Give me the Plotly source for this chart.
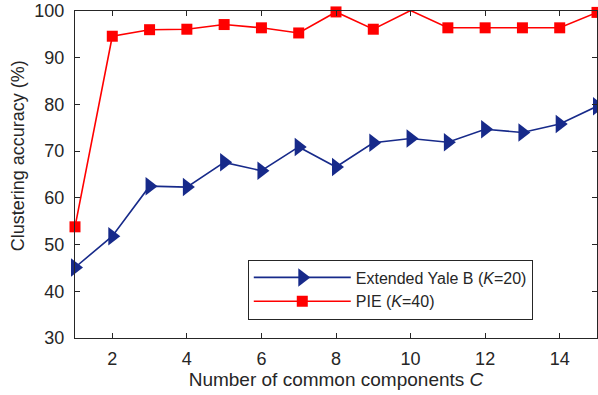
import plotly.graph_objects as go

components = list(range(1, 16))
yale_b = [45.1, 51.8, 62.5, 62.3, 67.6, 65.8, 70.9, 66.6, 71.8, 72.7, 71.9, 74.7, 74.0, 75.8, 79.6]
pie = [53.8, 94.6, 96.0, 96.1, 97.1, 96.4, 95.3, 99.8, 96.1, 100.1, 96.4, 96.4, 96.4, 96.4, 99.7]

x_ticks = [2, 4, 6, 8, 10, 12, 14]
y_ticks = [30, 40, 50, 60, 70, 80, 90, 100]

axis_color = "#262626"
font_family = "Liberation Sans, Arial, sans-serif"

fig = go.Figure()
fig.add_trace(go.Scatter(
    x=components, y=yale_b, mode="lines+markers",
    name="Extended Yale B (<i>K</i>=20)",
    line=dict(color="#172a8a", width=1.6),
    marker=dict(symbol="triangle-right", size=16, color="#172a8a"),
    cliponaxis=False,
))
fig.add_trace(go.Scatter(
    x=components, y=pie, mode="lines+markers",
    name="PIE (<i>K</i>=40)",
    line=dict(color="#ff0000", width=1.6),
    marker=dict(symbol="square", size=11, color="#ff0000"),
    cliponaxis=False,
))

axis_common = dict(
    showgrid=False, zeroline=False,
    showline=True, linecolor=axis_color, linewidth=1, mirror="ticks",
    ticks="inside", ticklen=5, tickcolor=axis_color, tickwidth=1,
    tickfont=dict(size=18, color="#262626", family=font_family),
)

fig.update_layout(
    width=598, height=395,
    margin=dict(l=75, r=1, t=11, b=57, autoexpand=False),
    paper_bgcolor="white", plot_bgcolor="white",
    font=dict(family=font_family, color="#262626"),
    xaxis=dict(range=[1, 15], tickvals=x_ticks, ticklabelstandoff=4,
               automargin=False,
               title=dict(text="Number of common components <i>C</i>",
                          font=dict(size=19), standoff=3),
               **axis_common),
    yaxis=dict(range=[30, 100], tickvals=y_ticks, ticklabelstandoff=6,
               automargin=False, **axis_common),
    legend=dict(x=0.331, y=0.240, xanchor="left", yanchor="top",
                bordercolor=axis_color, borderwidth=1, bgcolor="white",
                font=dict(size=16, color="#262626"),
                tracegroupgap=0, itemwidth=97, entrywidth=288, entrywidthmode="pixels"),
    showlegend=True,
    annotations=[dict(
        text="Clustering accuracy (%)", textangle=-90,
        xref="paper", yref="paper", x=-0.109, y=0.556,
        xanchor="center", yanchor="middle", showarrow=False,
        font=dict(size=18, color="#262626", family=font_family),
    )],
)

fig.write_html("out.html", config={"displayModeBar": False},
               post_script=["document.body.style.margin='0';"])
